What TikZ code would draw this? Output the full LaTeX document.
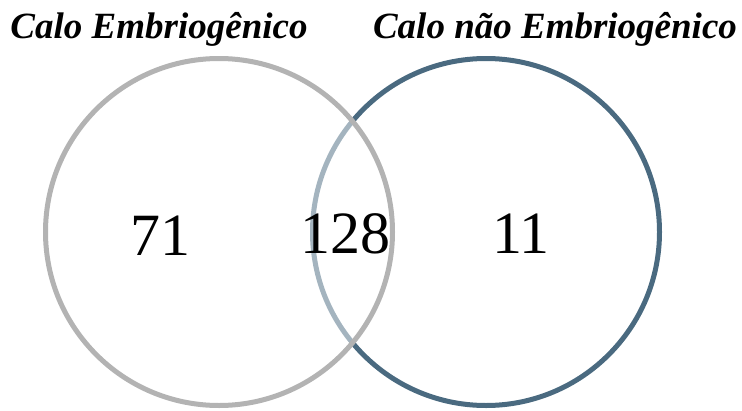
\documentclass[tikz,border=0pt]{standalone}
\usepackage{fontspec}
\setmainfont{Liberation Serif}
\usetikzlibrary{positioning}
\definecolor{embgray}{HTML}{B3B3B3}
\definecolor{nembblue}{HTML}{4A6A80}
\tikzset{
    setcircle/.style = {circle, line width=5pt, minimum size=347pt, inner sep=0pt},
    settitle/.style = {font=\fontsize{37}{37}\selectfont\bfseries\itshape, anchor=base},
    setcount/.style = {font=\fontsize{60}{60}\selectfont}
}
\begin{document}
\begin{tikzpicture}[x=1pt,y=-1pt]
  \useasboundingbox (0,0) rectangle (742,410);
  % right set first, left set drawn on top
  \node[setcircle, draw=nembblue] (nemb) at (486,232) {};
  \node[setcircle, draw=embgray, fill=white, fill opacity=0.5, draw opacity=1] (emb) at (219,232) {};

  \node[settitle] (embtitle) at (159,38) {Calo Embriogênico};
  \node[settitle] (nembtitle) at (555,38) {Calo não Embriogênico};

  \node[setcount] (onlyemb) at (160,236) {71};
  \node[setcount] (both) at (345,234) {128};
  \node[setcount] (onlynemb) at (521,234) {11};
\end{tikzpicture}
\end{document}
